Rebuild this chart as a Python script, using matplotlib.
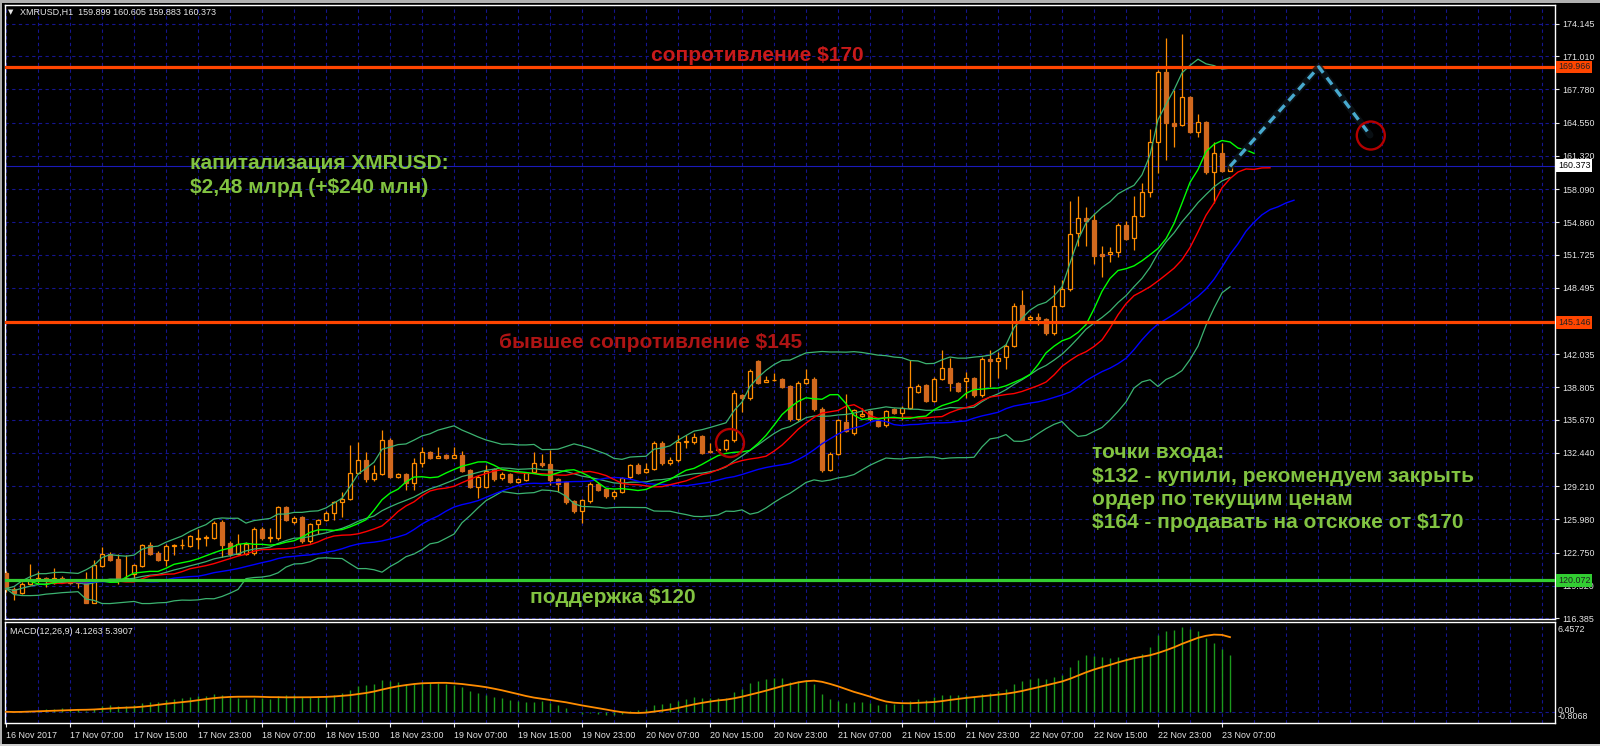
import numpy as np
import pandas as pd
import matplotlib
matplotlib.use("Agg")
import matplotlib.pyplot as plt
from matplotlib.patches import Ellipse, Rectangle
from matplotlib.transforms import blended_transform_factory

# ---------------- data (XMRUSD, H1) ----------------
opens = [120.77, 119.25, 118.86, 119.73, 120.06, 120.3, 119.8, 120.3, 120.06, 120.06,
         120.22, 117.85, 121.45, 122.65, 122.1, 120.1, 120.71, 121.45, 123.46, 122.75,
         122.0, 123.4, 123.45, 123.4, 124.02, 124.21, 124.2, 125.73, 123.72, 122.65,
         122.65, 122.75, 125.02, 124.2, 124.18, 127.19, 125.73, 126.22, 123.85, 125.48,
         125.9, 126.64, 127.68, 128.0, 130.53, 131.73, 129.86, 130.37, 133.74, 130.11,
         130.34, 129.56, 131.41, 132.48, 131.99, 132.22, 131.99, 132.22, 130.76, 129.14,
         129.14, 130.83, 129.95, 130.37, 129.62, 129.79, 130.6, 131.5, 131.34, 129.88,
         129.62, 127.74, 126.8, 127.74, 129.46, 128.9, 128.26, 128.65, 130.05, 131.31,
         130.6, 130.92, 133.45, 131.41, 131.73, 133.52, 133.52, 134.06, 132.64, 132.7,
         132.77, 133.68, 138.05, 137.73, 141.36, 139.35, 139.5, 139.61, 138.93, 135.69,
         139.28, 139.67, 136.69, 130.82, 132.38, 135.4, 134.33, 136.04, 136.5, 135.62,
         135.14, 136.72, 136.33, 136.85, 138.38, 139.03, 137.5, 139.67, 140.65, 139.19,
         139.42, 139.68, 138.06, 141.53, 141.4, 141.72, 142.82, 146.78, 145.42, 145.68,
         145.42, 144.06, 146.71, 148.33, 153.78, 155.24, 155.08, 151.74, 151.74, 151.93,
         154.6, 153.3, 155.5, 157.77, 162.64, 169.51, 164.48, 164.32, 167.01, 163.67,
         164.58, 159.78, 161.63, 159.899]
highs = [121.0, 119.4, 119.9, 121.68, 121.0, 120.4, 121.2, 120.5, 120.2, 120.1,
         120.87, 122.0, 123.3, 122.8, 122.65, 122.5, 121.68, 123.6, 123.79, 122.9,
         123.6, 123.6, 124.1, 124.5, 125.02, 124.43, 125.8, 125.9, 123.9, 124.6,
         123.8, 125.2, 125.2, 125.1, 127.3, 127.3, 126.3, 126.3, 125.6, 126.0,
         126.8, 127.8, 128.65, 133.19, 133.52, 132.54, 131.25, 134.65, 133.9, 130.5,
         130.5, 131.9, 133.03, 132.6, 132.97, 132.35, 132.97, 132.64, 130.92, 130.25,
         131.25, 131.0, 130.6, 130.5, 130.0, 130.6, 132.48, 132.31, 132.7, 130.0,
         129.7, 127.9, 128.0, 129.6, 129.6, 129.0, 128.8, 130.1, 131.4, 131.45,
         131.41, 133.6, 133.6, 132.06, 134.16, 134.16, 134.33, 134.2, 133.45, 132.85,
         133.8, 138.6, 138.2, 140.55, 141.5, 139.9, 140.16, 139.75, 139.05, 139.4,
         140.55, 139.8, 136.92, 132.5, 135.75, 138.12, 136.75, 136.76, 136.65, 135.75,
         136.65, 136.85, 137.0, 141.46, 139.1, 139.15, 139.8, 142.43, 141.62, 139.3,
         140.33, 139.8, 141.8, 142.43, 142.27, 143.0, 146.97, 148.27, 145.8, 146.0,
         145.55, 148.76, 149.24, 156.93, 157.41, 156.31, 155.73, 152.55, 152.42, 154.75,
         154.98, 157.41, 158.65, 163.93, 169.7, 172.75, 167.73, 173.17, 167.15, 165.36,
         164.7, 162.7, 162.6, 160.605]
lows = [118.9, 118.11, 118.7, 119.6, 119.8, 119.41, 119.7, 120.0, 119.7, 119.35,
        117.8, 117.8, 121.3, 121.9, 119.73, 120.0, 120.06, 121.3, 122.5, 121.9,
        121.45, 122.5, 123.14, 123.3, 123.14, 123.4, 124.1, 122.33, 122.4, 122.5,
        122.5, 122.5, 124.0, 123.8, 124.0, 125.8, 125.57, 123.7, 123.7, 124.6,
        125.8, 125.9, 126.22, 127.9, 130.4, 129.63, 129.7, 130.27, 130.0, 130.0,
        128.81, 128.88, 131.02, 131.8, 131.9, 131.85, 131.9, 130.6, 128.98, 128.07,
        129.0, 129.7, 129.8, 129.5, 129.5, 129.7, 130.5, 131.1, 129.3, 128.65,
        127.5, 126.6, 125.63, 127.6, 128.7, 128.1, 127.94, 128.5, 129.9, 130.4,
        130.5, 130.8, 131.3, 131.3, 131.6, 132.87, 133.3, 132.3, 132.4, 132.6,
        132.65, 133.5, 136.43, 137.6, 139.1, 139.3, 139.4, 138.75, 135.55, 135.55,
        139.15, 136.5, 130.6, 130.7, 132.2, 134.49, 134.2, 135.9, 135.55, 134.95,
        135.0, 136.2, 135.62, 136.7, 138.25, 137.35, 137.35, 139.55, 138.48, 138.35,
        137.73, 137.9, 137.9, 138.87, 139.68, 140.55, 142.7, 145.2, 145.03, 144.87,
        143.9, 143.9, 146.6, 148.2, 152.55, 152.55, 150.77, 149.57, 151.03, 151.45,
        153.1, 152.16, 155.4, 157.35, 159.62, 160.92, 162.21, 164.2, 163.5, 163.19,
        159.55, 156.7, 159.75, 159.883]
closes = [119.25, 118.86, 119.73, 120.06, 120.3, 120.0, 120.32, 120.2, 119.8, 119.8,
          117.85, 121.52, 122.65, 122.0, 120.06, 120.3, 121.52, 123.46, 122.65, 122.0,
          123.4, 123.45, 123.5, 124.37, 124.21, 124.27, 125.67, 123.46, 122.59, 123.6,
          123.6, 125.02, 124.18, 124.3, 127.13, 125.9, 126.15, 123.85, 125.48, 125.9,
          126.64, 127.68, 128.0, 130.53, 131.73, 129.89, 130.44, 133.74, 130.11, 130.34,
          129.56, 131.41, 132.48, 131.96, 132.15, 131.99, 132.28, 130.7, 129.14, 130.11,
          130.7, 129.89, 130.43, 129.62, 129.88, 130.5, 131.41, 131.24, 129.79, 129.46,
          127.68, 126.8, 127.84, 129.46, 128.81, 128.23, 128.65, 129.95, 131.24, 130.53,
          130.92, 133.45, 131.41, 131.73, 133.52, 133.55, 134.0, 132.44, 132.48, 132.75,
          133.68, 138.31, 137.73, 140.42, 139.25, 139.51, 139.53, 138.87, 135.69, 139.28,
          139.67, 136.66, 130.76, 132.38, 135.62, 134.55, 136.6, 136.27, 135.69, 135.07,
          136.5, 136.33, 136.85, 138.8, 138.96, 137.5, 139.67, 140.74, 139.19, 138.48,
          139.68, 138.06, 141.53, 141.4, 141.62, 142.82, 146.71, 145.35, 145.68, 145.42,
          144.06, 146.71, 148.33, 153.68, 155.24, 154.98, 151.61, 151.61, 151.93, 154.6,
          153.23, 155.5, 157.77, 162.7, 169.51, 164.48, 164.22, 167.08, 163.67, 164.58,
          159.78, 161.63, 159.88, 160.373]

time_labels = ["16 Nov 2017", "17 Nov 07:00", "17 Nov 15:00", "17 Nov 23:00",
               "18 Nov 07:00", "18 Nov 15:00", "18 Nov 23:00", "19 Nov 07:00",
               "19 Nov 15:00", "19 Nov 23:00", "20 Nov 07:00", "20 Nov 15:00",
               "20 Nov 23:00", "21 Nov 07:00", "21 Nov 15:00", "21 Nov 23:00",
               "22 Nov 07:00", "22 Nov 15:00", "22 Nov 23:00", "23 Nov 07:00"]
price_tick_labels = ["174.145", "171.010", "167.780", "164.550", "161.320", "158.090",
                     "154.860", "151.725", "148.495", "145.265", "142.035", "138.805",
                     "135.670", "132.440", "129.210", "125.980", "122.750", "119.520",
                     "116.385"]
hidden_tick_labels = ["145.265"]   # covered by the 145.146 level marker
resistance_level = 169.966
former_resistance_level = 145.146
support_level = 120.072
last_price = 160.373
forecast_bars = [153.0, 164.1, 170.5]
forecast_prices = [160.30, 169.97, 163.35]
circle_bars = [90.5, 170.6]
circle_prices = [133.4, 163.3]
macd_top, macd_bottom = 6.4572, -0.8068

# ---------------- indicators ----------------
o = np.array(opens); h = np.array(highs); l = np.array(lows); c = np.array(closes)
n = len(c)
x = np.arange(n)
cs = pd.Series(c)
bb_mid = cs.rolling(20, min_periods=1).mean()
bb_std = cs.rolling(20, min_periods=1).std(ddof=0)
bb_up = bb_mid + 2 * bb_std
bb_lo = bb_mid - 2 * bb_std
med = pd.Series((h + l) / 2)
jaw = med.ewm(alpha=1 / 13, adjust=False).mean()
teeth = med.ewm(alpha=1 / 8, adjust=False).mean()
lips = med.ewm(alpha=1 / 5, adjust=False).mean()
macd = cs.ewm(span=12, adjust=False).mean() - cs.ewm(span=26, adjust=False).mean()
signal = macd.rolling(9, min_periods=1).mean()

# ---------------- figure ----------------
plt.rcParams['font.family'] = ['Liberation Sans', 'DejaVu Sans']
W, H = 1600, 746
BG = 'black'
GRID = '#15158e'
FG = '#e6e6e6'
fig = plt.figure(figsize=(16, 7.46), dpi=100, facecolor=BG)

L, R, T, MB, MT, MBOT = 5, 1555, 5, 619, 622, 723
ax = fig.add_axes([L / W, 1 - MB / H, (R - L) / W, (MB - T) / H], facecolor=BG)
axm = fig.add_axes([L / W, 1 - MBOT / H, (R - L) / W, (MBOT - MT) / H], facecolor=BG)

px_bar = 8.0
px_price = 10.284
xlim = ((L - 6) / px_bar, (R - 6) / px_bar)
ax.set_xlim(*xlim)
axm.set_xlim(*xlim)
price_ticks = [float(s) for s in price_tick_labels]
ax.set_ylim(116.385 - (MB - 618) / px_price, 174.145 + (24 - T) / px_price)
axm.set_ylim(macd_bottom, macd_top)

for a in (ax, axm):
    for s in a.spines.values():
        s.set_color('white')
        s.set_linewidth(1.0)
    for gx in range(0, 194, 4):
        a.axvline(gx, color=GRID, lw=0.8, ls=(0, (3, 3)), zorder=0.5)
for p in price_ticks:
    ax.axhline(p, color=GRID, lw=0.8, ls=(0, (3, 3)), zorder=0.5)
axm.axhline(0, color=GRID, lw=0.8, ls=(0, (3, 3)), zorder=0.5)

# candles
BULL = '#FF8C00'
BEAR = '#D2691E'
up = c >= o
ax.vlines(x, l, h, color=BULL, lw=0.9, zorder=2)
bot = np.minimum(o, c)
hgt = np.maximum(np.abs(c - o), 0.07)
ax.bar(x[up], hgt[up], bottom=bot[up], width=0.5, facecolor=BG, edgecolor=BULL,
       lw=0.9, zorder=3)
ax.bar(x[~up], hgt[~up], bottom=bot[~up], width=0.5, facecolor=BEAR, edgecolor=BEAR,
       lw=0.9, zorder=3)

# indicators
BBC = '#3CB371'
ax.plot(x, bb_up, color=BBC, lw=0.9, zorder=4)
ax.plot(x, bb_mid, color=BBC, lw=0.9, zorder=4)
ax.plot(x, bb_lo, color=BBC, lw=0.9, zorder=4)
ax.plot(x + 8, jaw, color='#0000FF', lw=1.0, zorder=4)
ax.plot(x + 5, teeth, color='#FF0000', lw=1.0, zorder=4)
ax.plot(x + 3, lips, color='#00FF00', lw=1.0, zorder=4)

# levels
ax.axhline(last_price, color='#1a1ab8', lw=0.8, zorder=1.5)
ax.axhline(resistance_level, color='#FF4500', lw=2.3, zorder=6)
ax.axhline(former_resistance_level, color='#FF4500', lw=2.3, zorder=6)
ax.axhline(support_level, color='#32CD32', lw=2.3, zorder=6)

# forecast path & circles
ax.plot(forecast_bars, forecast_prices, color='#0c1418', lw=5, zorder=6.5,
        solid_capstyle='round', alpha=0.8)
ax.plot(forecast_bars, forecast_prices, color='#48AACF', lw=2.4, ls=(0, (2.6, 1.8)),
        zorder=7)
for cb, cp in zip(circle_bars, circle_prices):
    ax.add_patch(Ellipse((cb, cp), width=28 / px_bar, height=28 / px_price, fill=False,
                         ec='#B40000', lw=1.7, zorder=7))

# price axis
ax.yaxis.tick_right()
ax.set_yticks(price_ticks)
ax.set_yticklabels(['' if s in hidden_tick_labels else s for s in price_tick_labels])
ax.tick_params(axis='y', colors=FG, labelsize=6.4, length=3, width=0.8, pad=2)
ax.set_xticks([])

trans = blended_transform_factory(ax.transAxes, ax.transData)
xa = 1 + 3 / (R - L)
for lvl, txt, fc, tc in [(resistance_level, '169.966', '#FF4500', '#202020'),
                         (former_resistance_level, '145.146', '#FF4500', '#202020'),
                         (support_level, '120.072', '#32CD32', '#202020'),
                         (last_price, '160.373', 'white', 'black')]:
    ax.text(xa, lvl, txt, transform=trans, ha='left', va='center', fontsize=6.4,
            color=tc, clip_on=False, zorder=10,
            bbox=dict(boxstyle='square,pad=0.22', fc=fc, ec='none'))

# MACD panel
axm.vlines(x, 0, macd, color='#1c9a1c', lw=1.0, zorder=2)
axm.plot(x, signal, color='#FF8C00', lw=1.3, zorder=3)
axm.set_yticks([])
axm.set_xticks(np.arange(0, 8 * len(time_labels), 8))
axm.set_xticklabels(time_labels, ha='left')
axm.tick_params(axis='x', colors=FG, labelsize=6.4, length=3, width=0.8, pad=3)
transm = blended_transform_factory(axm.transAxes, axm.transData)
axm.text(xa, 5.95, '6.4572', transform=transm, ha='left', va='center', fontsize=6.4,
         color=FG, clip_on=False)
axm.text(xa, 0.12, '0.00', transform=transm, ha='left', va='center', fontsize=6.4,
         color=FG, clip_on=False)
axm.text(xa, -0.32, '-0.8068', transform=transm, ha='left', va='center', fontsize=6.4,
         color=FG, clip_on=False)


def ftext(px, py, s, **kw):
    return fig.text(px / W, 1 - py / H, s, parse_math=False, **kw)


ftext(8, 12.5, '\u25BC', fontsize=5, color=FG, va='center', ha='left',
      family=['DejaVu Sans'])
ftext(20, 12.5, 'XMRUSD,H1  159.899 160.605 159.883 160.373', fontsize=6.5, color=FG,
      va='center', ha='left')
ftext(10, 632, 'MACD(12,26,9) 4.1263 5.3907', fontsize=6.5, color=FG, va='center',
      ha='left')

BIG = dict(fontsize=15, fontweight='bold', va='baseline')
GREEN_TXT = '#82C341'
ftext(757, 61, 'сопротивление $170', color='#C81A1A', ha='center', **BIG)
ftext(651, 348, 'бывшее сопротивление $145', color='#AE1414', ha='center', **BIG)
ftext(190, 169, 'капитализация XMRUSD:', color=GREEN_TXT, ha='left', **BIG)
ftext(190, 193, '$2,48 млрд (+$240 млн)', color=GREEN_TXT, ha='left', **BIG)
ftext(613, 603, 'поддержка $120', color=GREEN_TXT, ha='center', **BIG)
entry_lines = ['точки входа:', '$132 - купили, рекомендуем закрыть',
               'ордер по текущим ценам', '$164 - продавать на отскоке от $170']
for i, s in enumerate(entry_lines):
    ftext(1092, 458 + 23.5 * i, s, color=GREEN_TXT, ha='left', **BIG)

# window frame
fig.add_artist(Rectangle((0, 1 - 3 / H), 1, 3 / H, transform=fig.transFigure,
                         color='#b0b0b0', lw=0))
fig.add_artist(Rectangle((0, 0), 2 / W, 1, transform=fig.transFigure,
                         color='#b0b0b0', lw=0))
fig.add_artist(Rectangle((0, 0), 1, 2 / H, transform=fig.transFigure,
                         color='#d0d0d0', lw=0))

fig.savefig('out.png', dpi=100, facecolor=BG)
